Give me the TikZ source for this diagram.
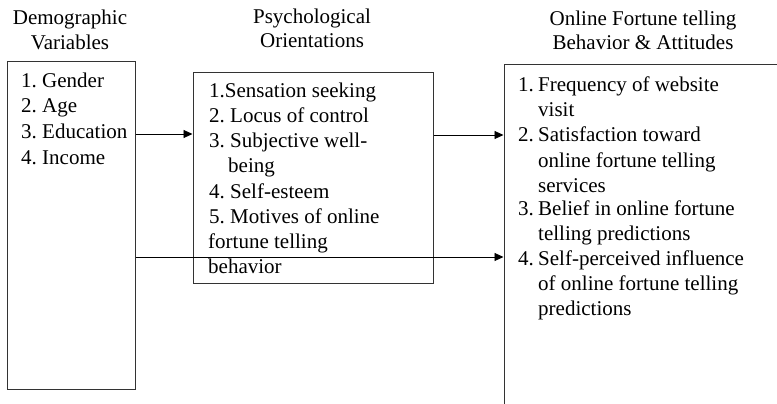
\documentclass[tikz,border=0pt]{standalone}
\usepackage{fontspec}
\setmainfont{Liberation Serif}
\usetikzlibrary{arrows.meta}
\frenchspacing
\begin{document}
\begin{tikzpicture}[x=1pt,y=-1pt,
  box/.style={draw=black!80,line width=1pt,inner sep=0pt,minimum width=#1},
  txt/.style={anchor=base west,inner sep=0pt,font=\fontsize{21}{25}\selectfont},
  ttl/.style={anchor=base,inner sep=0pt,font=\fontsize{21}{25}\selectfont},
  arr/.style={line width=0.9pt,-{Triangle[length=9pt,width=8pt]}}]
\useasboundingbox (0,0) rectangle (777,404);
\clip (0,0) rectangle (777,404);
% titles
\node[ttl] (t1a) at (70,25) {Demographic};
\node[ttl] (t1b) at (70,50) {Variables};
\node[ttl] (t2a) at (312,24) {Psychological};
\node[ttl] (t2b) at (312,48) {Orientations};
\node[ttl] (t3a) at (643,26) {Online Fortune telling};
\node[ttl] (t3b) at (643,50) {Behavior \& Attitudes};
% boxes
\node[box=128pt,minimum height=327pt] (demo) at (71,225.5) {};
\node[box=240pt,minimum height=210pt] (psy) at (313,178) {};
\node[box=320pt,minimum height=380pt] (beh) at (664,255) {};
% left box text
\node[txt] (d1) at (21,87.5) {1. Gender};
\node[txt] (d2) at (21,113) {2. Age};
\node[txt] (d3) at (21,138.5) {3. Education};
\node[txt] (d4) at (21,164) {4. Income};
% middle box text
\node[txt] (p1) at (209,97) {1.Sensation seeking};
\node[txt] (p2) at (209,122) {2. Locus of control};
\node[txt] (p3) at (209,147.5) {3. Subjective well-};
\node[txt] (p3b) at (228,172.5) {being};
\node[txt] (p4) at (209,198) {4. Self-esteem};
\node[txt] (p5) at (209,223) {5. Motives of online};
\node[txt] (p5b) at (208,248) {fortune telling};
\node[txt] (p5c) at (208,273) {behavior};
% right box text
\node[txt] (b1n) at (518,92) {1.};
\node[txt] (b1) at (538,92) {Frequency of website};
\node[txt] (b1b) at (538,117) {visit};
\node[txt] (b2n) at (518,142) {2.};
\node[txt] (b2) at (538,142) {Satisfaction toward};
\node[txt] (b2b) at (538,167) {online fortune telling};
\node[txt] (b2c) at (538,192) {services};
\node[txt] (b3n) at (518,215) {3.};
\node[txt] (b3) at (538,215) {Belief in online fortune};
\node[txt] (b3b) at (538,240) {telling predictions};
\node[txt] (b4n) at (518,265) {4.};
\node[txt] (b4) at (538,265) {Self-perceived influence};
\node[txt] (b4b) at (538,290) {of online fortune telling};
\node[txt] (b4c) at (538,315) {predictions};
% arrows
\draw[arr] (demo.east |- 0,134) -- (psy.west |- 0,134);
\draw[arr] (psy.east |- 0,135) -- (beh.west |- 0,135);
\draw[arr] (demo.east |- 0,257) -- (beh.west |- 0,257);
\end{tikzpicture}
\end{document}
